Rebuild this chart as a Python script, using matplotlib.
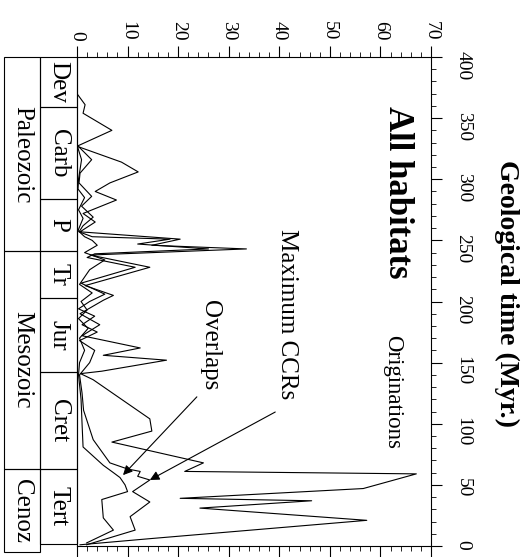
import matplotlib.pyplot as plt
import matplotlib.transforms as mtransforms
from matplotlib.patches import Rectangle
from matplotlib.ticker import MultipleLocator

plt.rcParams['font.family'] = ['Liberation Serif', 'DejaVu Serif']

# geological time (Myr) and rate values for each series
orig_t = [370, 361, 354, 340, 327, 314, 306, 297, 290, 283, 272, 265, 257, 251, 246, 243,
          238, 228, 213, 205, 201, 190, 181, 172, 162, 156, 152, 143, 141, 136, 104, 94,
          85, 68, 61, 59, 47, 39, 37, 31, 21, 6, 1]
orig_v = [0, 1.6, 1.2, 6.9, 0, 8.8, 12.1, 6.5, 3.6, 7.8, 1.2, 3.6, 0.6, 20.4, 14.8, 33.5,
          2.6, 14.4, 1.6, 7.2, 5.2, 0.6, 4.5, 1.0, 12.5, 5.2, 17.7, 4.9, 0.7, 3.2, 14.4, 14.8,
          6.9, 25.0, 21.3, 67.1, 56.6, 20.4, 46.4, 24.3, 57.3, 14.4, 0.6]

ccr_t = [328, 316, 305, 297, 286, 278, 269, 262, 257, 253, 251, 247, 243, 239, 236, 228,
         215, 206, 200, 194, 188, 181, 175, 168, 160, 150, 140, 125, 111, 87, 68, 63,
         61, 57, 54, 44.5, 36, 24, 13, 1]
ccr_v = [0, 2.9, 0.6, 0.4, 2.9, 0.9, 3.2, 1.2, 0.4, 3.0, 18.4, 12.0, 26.0, 3.5, 2.0, 11.5,
         0.8, 5.5, 2.5, 0.3, 3.5, 1.0, 4.0, 0.5, 3.5, 2.5, 0.5, 1.0, 1.3, 3.2, 6.5, 10.0,
         12.5, 12.0, 14.4, 11.0, 14.4, 10.5, 11.5, 1.9]

ovl_t = [328, 316, 300, 292, 285, 275, 268, 258, 253, 250, 246, 240, 234, 226, 214, 207,
         200, 193, 186, 178, 170, 160, 150, 140, 120, 100, 81, 66, 60, 56, 50, 44.5,
         38, 23, 13, 2.5]
ovl_v = [0, 0.9, 0.3, 0.2, 1.5, 0.3, 1.2, 0.2, 1.5, 3.0, 4.0, 1.5, 5.5, 2.5, 0.5, 3.0,
         0.8, 2.0, 0.3, 2.2, 0.5, 1.5, 0.5, 0.3, 0.8, 1.0, 1.2, 5.2, 7.2, 8.5, 9.5, 10.0,
         4.9, 5.2, 7.2, 1.9]

periods = ['Dev', 'Carb', 'P', 'Tr', 'Jur', 'Cret', 'Tert']
period_edges = [400, 359, 284, 241, 203, 142, 63, 2]
eras = ['Paleozoic', 'Mesozoic', 'Cenoz']
era_edges = [400, 241, 63, -5]

fig = plt.figure(figsize=(5.25, 5.57), dpi=100)
ax = fig.add_axes([77 / 525, 11 / 557, 354 / 525, 489 / 557])

lw = 0.8
ax.plot(orig_v, orig_t, color='black', lw=lw)
ax.plot(ccr_v, ccr_t, color='black', lw=lw)
ax.plot(ovl_v, ovl_t, color='black', lw=lw)

ax.set_xlim(0, 70)
ax.set_ylim(0, 400)

# value axis along the top, time axis down the right side
ax.xaxis.set_major_locator(MultipleLocator(10))
ax.xaxis.set_minor_locator(MultipleLocator(2))
ax.yaxis.set_major_locator(MultipleLocator(50))
ax.yaxis.set_minor_locator(MultipleLocator(10))
ax.tick_params(axis='x', which='both', top=True, bottom=True, labeltop=True,
               labelbottom=False, direction='out', labelsize=14, labelrotation=270, pad=4)
ax.tick_params(axis='y', which='both', left=False, right=True, labelleft=False,
               labelright=True, direction='out', labelsize=14, labelrotation=270, pad=9)
ax.tick_params(which='major', length=8, width=0.8)
ax.tick_params(which='minor', length=3.5, width=0.6)
for lab in ax.get_xticklabels():
    lab.set_va('bottom')
for lab in ax.get_yticklabels():
    lab.set_ha('left')
for s in ax.spines.values():
    s.set_linewidth(0.8)

fig.text(507 / 525, 1 - 294 / 557, 'Geological time (Myr.)', rotation=270,
         ha='center', va='center', fontsize=20, fontweight='bold')

# period / era boxes to the left of the value axis
trans = mtransforms.blended_transform_factory(ax.transAxes, ax.transData)
col_p = (-0.1045, 0.0)
col_e = (-0.2062, -0.1045)
for name, top, bot in zip(periods, period_edges[:-1], period_edges[1:]):
    ax.add_patch(Rectangle((col_p[0], bot), col_p[1] - col_p[0], top - bot,
                           transform=trans, fill=False, lw=0.8, clip_on=False))
    ax.text(sum(col_p) / 2, (top + bot) / 2, name, transform=trans, rotation=270,
            ha='center', va='center', fontsize=18)
for name, top, bot in zip(eras, era_edges[:-1], era_edges[1:]):
    ax.add_patch(Rectangle((col_e[0], bot), col_e[1] - col_e[0], top - bot,
                           transform=trans, fill=False, lw=0.8, clip_on=False))
    ax.text(sum(col_e) / 2, (top + bot) / 2, name, transform=trans, rotation=270,
            ha='center', va='center', fontsize=18)

ax.text(63.3, 289, 'All habitats', rotation=270, ha='center', va='center',
        fontsize=25, fontweight='bold')
ax.text(62.5, 126, 'Originations', rotation=270, ha='center', va='center', fontsize=16.5)
ax.text(41.5, 190, 'Maximum CCRs', rotation=270, ha='center', va='center', fontsize=18)
ax.text(26.3, 164, 'Overlaps', rotation=270, ha='center', va='center', fontsize=18)

arrow = dict(arrowstyle='-|>', color='black', lw=0.8, mutation_scale=14,
             shrinkA=0, shrinkB=0)
ax.annotate('', xy=(9.1, 58), xytext=(23.7, 122), arrowprops=arrow)
ax.annotate('', xy=(14.4, 54), xytext=(39.2, 109.6), arrowprops=arrow)

fig.savefig('out.png', dpi=100)
